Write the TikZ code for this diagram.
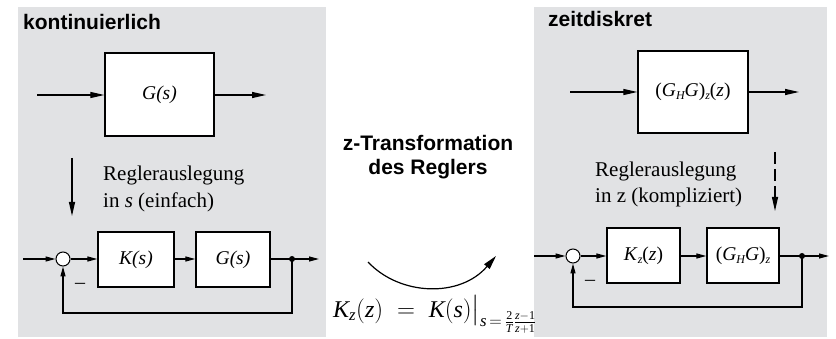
\documentclass[tikz,border=0pt]{standalone}
\usepackage{amsmath}
\usepackage{fontspec}
\setmainfont{Liberation Serif}
\newfontfamily\headfont{Liberation Sans}
\usetikzlibrary{arrows.meta}
\definecolor{panelgray}{RGB}{225,226,228}
\newcommand\vi[1]{\text{\itshape #1}}
\newcommand\vu[1]{\text{\upshape #1}}
\newcommand\sbs[1]{\raisebox{-0.35ex}{\fontsize{12}{12}\selectfont\itshape #1}}
\tikzset{
  panel/.style={fill=panelgray, draw=none},
  blk/.style={draw, line width=1.3pt, fill=white, inner sep=0pt, font=\fontsize{19.5}{22}\selectfont},
  sumpt/.style={draw, line width=1pt, fill=white, circle, minimum size=14pt, inner sep=0pt},
  dotpt/.style={fill=black, circle, minimum size=6pt, inner sep=0pt},
  sig/.style={line width=1.2pt, -{Triangle[length=14pt,width=6pt]}},
  sigs/.style={line width=1.2pt, -{Triangle[length=10pt,width=5pt]}},
  wire/.style={line width=1.2pt},
  head/.style={font=\headfont\bfseries\fontsize{21}{24}\selectfont, inner sep=0pt},
  note/.style={font=\fontsize{21}{27}\selectfont, align=left, inner sep=0pt},
}
\begin{document}
\begin{tikzpicture}[x=1pt,y=-1pt]
\useasboundingbox (0,0) rectangle (836,339);
% panels
\fill[panel] (18,7) rectangle (326,337);
\fill[panel] (534,7) rectangle (827,337);

% ---------- left panel ----------
\node[head, anchor=base west] (hl) at (23,30) {kontinuierlich};
\node[blk, minimum width=109pt, minimum height=83pt] (G1) at (159.5,94.5) {\itshape G(s)};
\coordinate (G1in) at (37,95);
\coordinate (G1out) at (266,95);
\draw[sig] (G1in) -- (G1.west|-G1in);
\draw[sig] (G1.east|-G1in) -- (G1out);

\coordinate (la1) at (72,158);
\coordinate (la2) at (72,216);
\draw[sig] (la1) -- (la2);
\node[note, anchor=base west] (tl1) at (103,181) {Reglerauslegung};
\node[note, anchor=base west] (tl2) at (103,208) {in \textit{s} (einfach)};

\coordinate (Lin) at (23,259);
\node[sumpt] (S1) at (63,259) {};
\node[blk, minimum width=76pt, minimum height=55pt] (K1) at (136,259.5) {\itshape K(s)};
\node[blk, minimum width=74pt, minimum height=55pt] (G2) at (233,259.5) {\itshape G(s)};
\node[dotpt] (D1) at (292,259) {};
\coordinate (Lout) at (319,259);
\coordinate (Lfb1) at (292,313);
\coordinate (Lfb2) at (63,313);
\draw[sigs] (Lin) -- (S1.west);
\draw[sigs] (S1.east) -- (K1.west|-S1);
\draw[sigs] (K1.east|-S1) -- (G2.west|-S1);
\draw[wire] (G2.east|-S1) -- (D1.center);
\draw[sigs] (D1.center) -- (Lout);
\draw[sigs] (D1.center) -- (Lfb1) -- (Lfb2) -- (S1.south);
\node[font=\fontsize{20}{20}\selectfont, inner sep=0pt] (m1) at (80,286) {--};

% ---------- center ----------
\node[head, align=center, font=\headfont\bfseries\fontsize{21}{24}\selectfont] (hc) at (428,157) {z-Transformation\\des Reglers};
\coordinate (ca1) at (368,262);
\coordinate (ca2) at (496,256);
\draw[line width=1.2pt, -{Triangle[length=14pt,width=7pt]}] (ca1) .. controls (400,296) and (460,298) .. (ca2);
\node[anchor=base west, inner sep=0pt, font=\fontsize{24}{26}\selectfont] (fm) at (333,317)
  {$\vi{K}_{\vi{z}}(\vi{z})\;=\;\vi{K}(\vi{s})\big|_{\vi{s}\,=\,\frac{\vu{2}}{\vi{T}}\frac{\vi{z}-\vu{1}}{\vi{z}+\vu{1}}}$};

% ---------- right panel ----------
\node[head, anchor=base west] (hr) at (548,27) {zeitdiskret};
\node[blk, minimum width=110pt, minimum height=82pt] (G3) at (693,92) {(\textit{G}\sbs{H}\textit{G})\sbs{z}(\textit{z})};
\coordinate (G3in) at (570,92);
\coordinate (G3out) at (799,92);
\draw[sig] (G3in) -- (G3.west|-G3in);
\draw[sig] (G3.east|-G3in) -- (G3out);

\coordinate (ra1) at (775,152);
\coordinate (ra2) at (775,211);
\draw[sig, dash pattern=on 12pt off 5pt] (ra1) -- (ra2);
\node[note, anchor=base west] (tr1) at (595,177) {Reglerauslegung};
\node[note, anchor=base west] (tr2) at (595,203) {in z (kompliziert)};

\coordinate (Rin) at (534,256);
\node[sumpt] (S2) at (573,256) {};
\node[blk, minimum width=73pt, minimum height=55pt] (K2) at (643.5,255.5) {\textit{K}\sbs{z}(\textit{z})};
\node[blk, minimum width=72pt, minimum height=55pt] (G4) at (743,255.5) {(\textit{G}\sbs{H}\textit{G})\sbs{z}};
\node[dotpt] (D2) at (802,256) {};
\coordinate (Rout) at (829,256);
\coordinate (Rfb1) at (802,307);
\coordinate (Rfb2) at (573,307);
\draw[sigs] (Rin) -- (S2.west);
\draw[sigs] (S2.east) -- (K2.west|-S2);
\draw[sigs] (K2.east|-S2) -- (G4.west|-S2);
\draw[wire] (G4.east|-S2) -- (D2.center);
\draw[sigs] (D2.center) -- (Rout);
\draw[sigs] (D2.center) -- (Rfb1) -- (Rfb2) -- (S2.south);
\node[font=\fontsize{20}{20}\selectfont, inner sep=0pt] (m2) at (590,283) {--};
\end{tikzpicture}
\end{document}
